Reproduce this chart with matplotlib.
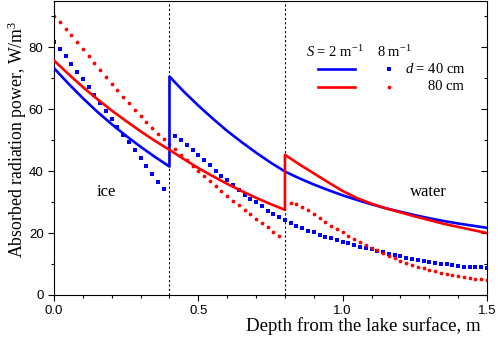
import numpy as np
import matplotlib.pyplot as plt
from matplotlib.ticker import MultipleLocator

# solid lines: S = 2 1/m (sampled every 0.05 m)
x_solid_ice40 = [0.0, 0.05, 0.1, 0.15, 0.2, 0.25, 0.3, 0.35, 0.4]
y_solid_ice40 = [73.3, 68.3, 63.6, 59.2, 55.2, 51.4, 47.9, 44.6, 41.5]
x_solid_wat40 = [0.4, 0.45, 0.5, 0.55, 0.6, 0.65, 0.7, 0.75, 0.8, 0.85, 0.9, 0.95,
                 1.0, 1.05, 1.1, 1.15, 1.2, 1.25, 1.3, 1.35, 1.4, 1.45, 1.5]
y_solid_wat40 = [70.6, 65.7, 61.2, 57.0, 53.0, 49.4, 46.0, 42.8, 39.9, 37.7, 35.7, 33.9,
                 32.2, 30.7, 29.3, 28.0, 26.9, 25.8, 24.8, 23.9, 23.1, 22.4, 21.7]

x_solid_ice80 = [0.0, 0.05, 0.1, 0.15, 0.2, 0.25, 0.3, 0.35, 0.4,
                 0.45, 0.5, 0.55, 0.6, 0.65, 0.7, 0.75, 0.8]
y_solid_ice80 = [75.8, 71.4, 67.2, 63.3, 59.6, 56.2, 52.9, 49.8, 46.9,
                 43.9, 41.0, 38.4, 35.9, 33.6, 31.4, 29.4, 27.5]
x_solid_wat80 = [0.8, 0.85, 0.9, 0.95, 1.0, 1.05, 1.1, 1.15, 1.2, 1.25, 1.3, 1.35, 1.4, 1.45, 1.5]
y_solid_wat80 = [45.3, 42.2, 39.3, 36.4, 33.6, 31.3, 29.5, 28.0, 26.7, 25.4, 24.2, 23.0, 22.0, 21.0, 20.0]

# dotted series: S = 8 1/m (one marker every 0.02 m)
y_dot_ice40 = [81.9, 79.5, 77.1, 74.7, 72.2, 69.8, 67.2, 64.6, 62.0, 59.6,
               57.0, 54.2, 51.8, 49.3, 46.9, 44.2, 41.7, 39.1, 36.6, 34.2]
y_dot_wat40 = [51.4, 50.1, 48.6, 46.9, 45.3, 43.7, 42.1, 40.2, 38.6, 37.0,
               35.4, 34.0, 32.4, 31.1, 29.9, 28.6, 27.3, 26.1, 25.1, 24.3,
               23.4, 22.4, 21.6, 20.8, 20.2, 19.4, 18.9, 18.3, 17.7, 17.1,
               16.7, 16.1, 15.6, 15.1, 14.7, 14.3, 13.8, 13.4, 12.9, 12.5,
               12.1, 11.7, 11.3, 11.0, 10.7, 10.4, 10.1, 9.9, 9.6, 9.4,
               9.2, 9.1, 9.0, 8.9, 8.8]
y_dot_ice80 = [90.0, 88.1, 86.0, 83.9, 81.6, 79.5, 77.3, 75.0, 72.8, 70.4,
               68.3, 66.1, 64.0, 62.0, 59.9, 57.7, 55.9, 53.9, 52.1, 50.4,
               48.9, 47.1, 45.3, 43.5, 41.7, 40.2, 38.5, 36.9, 35.3, 33.6,
               32.0, 30.5, 29.0, 27.6, 26.1, 24.7, 23.3, 21.9, 20.4, 19.1]
y_dot_wat80 = [29.6, 29.3, 28.5, 27.4, 26.1, 24.8, 23.6, 22.4, 21.3, 20.2,
               19.1, 18.1, 17.1, 16.2, 15.3, 14.4, 13.5, 12.6, 11.8, 11.1,
               10.4, 9.7, 9.1, 8.6, 8.1, 7.6, 7.2, 6.8, 6.4, 6.1,
               5.8, 5.5, 5.3, 5.1, 4.9]
x_dot_ice40 = np.round(np.arange(len(y_dot_ice40)) * 0.02, 2)
x_dot_wat40 = np.round(0.42 + np.arange(len(y_dot_wat40)) * 0.02, 2)
x_dot_ice80 = np.round(np.arange(len(y_dot_ice80)) * 0.02, 2)
x_dot_wat80 = np.round(0.82 + np.arange(len(y_dot_wat80)) * 0.02, 2)

interfaces = [0.4, 0.8]

blue = '#0000ff'
red = '#ff0000'
serif = ['Liberation Serif', 'DejaVu Serif']

plt.rcParams['font.family'] = ['Liberation Sans', 'DejaVu Sans']
plt.rcParams['mathtext.fontset'] = 'custom'
plt.rcParams['mathtext.rm'] = 'Liberation Serif'
plt.rcParams['mathtext.it'] = 'Liberation Serif:italic'

fig = plt.figure(figsize=(4.98, 3.40), dpi=100)
ax = fig.add_axes([0.1084, 0.1324, 0.8696, 0.8646])

for xv in interfaces:
    ax.axvline(xv, color='black', lw=0.8, ls=(0, (2, 2)), zorder=1)

# S = 2 solid
ax.plot(x_solid_ice40 + x_solid_wat40, y_solid_ice40 + y_solid_wat40, color=blue, lw=1.9, zorder=3)
ax.plot(x_solid_ice80 + x_solid_wat80, y_solid_ice80 + y_solid_wat80, color=red, lw=1.9, zorder=3)

# S = 8 dotted
ax.plot(x_dot_ice40, y_dot_ice40, ls='none', marker='s', ms=2.3, color=blue, mew=0, zorder=2)
ax.plot(x_dot_wat40, y_dot_wat40, ls='none', marker='s', ms=2.3, color=blue, mew=0, zorder=2)
ax.plot(x_dot_ice80, y_dot_ice80, ls='none', marker='o', ms=2.7, color=red, mew=0, zorder=2)
ax.plot(x_dot_wat80, y_dot_wat80, ls='none', marker='o', ms=2.7, color=red, mew=0, zorder=2)

ax.set_xlim(0, 1.5)
ax.set_ylim(0, 95)
ax.xaxis.set_major_locator(MultipleLocator(0.5))
ax.xaxis.set_minor_locator(MultipleLocator(0.1))
ax.yaxis.set_major_locator(MultipleLocator(20))
ax.yaxis.set_minor_locator(MultipleLocator(10))
ax.xaxis.set_major_formatter(plt.FormatStrFormatter('%.1f'))
ax.tick_params(axis='both', which='major', direction='out', length=4, width=0.8, labelsize=9.5)
ax.tick_params(axis='both', which='minor', direction='out', length=2.2, width=0.8)
ax.tick_params(axis='y', which='both', right=True, labelright=False)
for spine in ax.spines.values():
    spine.set_linewidth(0.8)

# right-side ticks point inward
for t in ax.yaxis.get_major_ticks() + ax.yaxis.get_minor_ticks():
    t.tick2line.set_marker(0)

ax.set_xlabel('Depth from the lake surface, m', family=serif, fontsize=13.6)
ax.xaxis.set_label_coords(0.985, -0.075)
ax.xaxis.label.set_ha('right')
ax.set_ylabel('Absorbed radiation power, W/m$^3$', family=serif, fontsize=12.8)
ax.yaxis.set_label_coords(-0.058, 0.53)

ax.text(0.18, 33.3, 'ice', family=serif, fontsize=12, ha='center', va='center')
ax.text(1.296, 33.3, 'water', family=serif, fontsize=12, ha='center', va='center')

# hand-made legend
ax.text(0.872, 78.6, '$S$ = 2 m$^{-1}$', family=serif, fontsize=10.5, va='center')
ax.text(1.118, 78.6, '8 m$^{-1}$', family=serif, fontsize=10.5, va='center')
ax.plot([0.913, 1.042], [73.1, 73.1], color=blue, lw=1.9)
ax.plot([0.913, 1.042], [67.3, 67.3], color=red, lw=1.9)
ax.plot([1.159], [73.1], ls='none', marker='s', ms=2.3, color=blue, mew=0)
ax.plot([1.159], [67.3], ls='none', marker='o', ms=2.7, color=red, mew=0)
ax.text(1.215, 73.1, '$d$ = 40 cm', family=serif, fontsize=10.5, va='center')
ax.text(1.294, 67.3, '80 cm', family=serif, fontsize=10.5, va='center')

fig.savefig('out.png', dpi=100)
